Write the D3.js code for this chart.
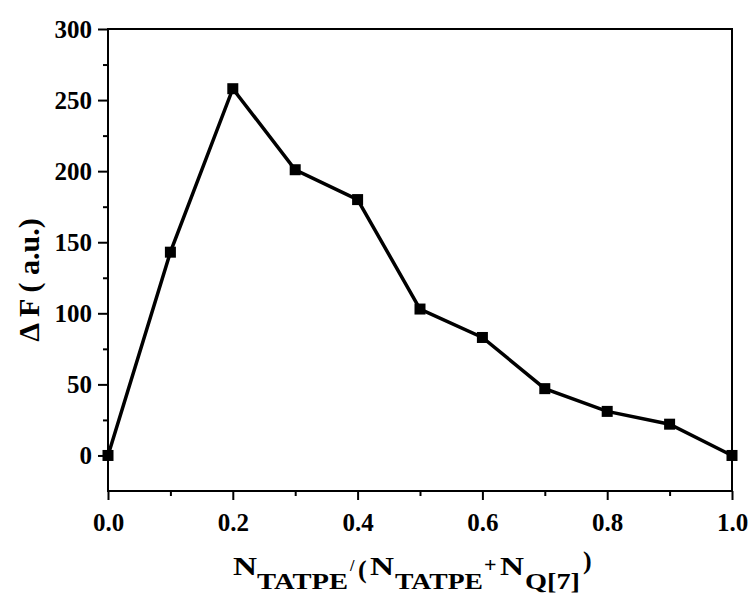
<!DOCTYPE html>
<html>
<head>
<meta charset="utf-8">
<script src="https://cdn.jsdelivr.net/npm/d3@7"></script>
<style>
  body { margin: 0; background: #fff; }
  text { font-family: "Liberation Serif", "Times New Roman", serif; font-weight: bold; fill: #000; }
</style>
</head>
<body>
<div id="chart"></div>
<script>
// values
var ratios = [0.0, 0.1, 0.2, 0.3, 0.4, 0.5, 0.6, 0.7, 0.8, 0.9, 1.0];
var deltaF = [0, 143, 258, 201, 180, 103, 83, 47, 31, 22, 0];
var xTicks = [0.0, 0.2, 0.4, 0.6, 0.8, 1.0];
var xMinor = [0.1, 0.3, 0.5, 0.7, 0.9];
var yTicks = [0, 50, 100, 150, 200, 250, 300];
var yMinor = [25, 75, 125, 175, 225, 275];

function drawChart() {
    var width = 754, height = 595;
    var margin = {top: 29, right: 22, bottom: 104, left: 108};

    var svg = d3.select("#chart")
        .append("svg")
        .attr("width", width)
        .attr("height", height);

    var x = d3.scaleLinear()
        .domain([0, 1])
        .range([margin.left, width - margin.right]);

    var y = d3.scaleLinear()
        .domain([-25, 300])
        .range([height - margin.bottom, margin.top]);

    var data = ratios.map((r, i) => ({x: r, y: deltaF[i]}));

    // frame
    svg.append("rect")
        .attr("x", x(0))
        .attr("y", y(300))
        .attr("width", x(1) - x(0))
        .attr("height", y(-25) - y(300))
        .attr("fill", "none")
        .attr("stroke", "#000")
        .attr("stroke-width", 2);

    // bottom axis
    var xAxis = svg.append("g")
        .attr("transform", "translate(0," + y(-25) + ")")
        .call(d3.axisBottom(x).tickValues(xTicks).tickFormat(d3.format(".1f")).tickSize(9).tickPadding(13));
    xAxis.select(".domain").remove();
    xAxis.selectAll("line").attr("stroke-width", 2);
    xAxis.selectAll("text").attr("font-size", 25).attr("font-family", null);

    svg.append("g")
        .attr("transform", "translate(0," + y(-25) + ")")
        .call(d3.axisBottom(x).tickValues(xMinor).tickFormat("").tickSize(5))
        .call(g => g.select(".domain").remove())
        .selectAll("line").attr("stroke-width", 2);

    // left axis
    var yAxis = svg.append("g")
        .attr("transform", "translate(" + x(0) + ",0)")
        .call(d3.axisLeft(y).tickValues(yTicks).tickSize(10).tickPadding(6));
    yAxis.select(".domain").remove();
    yAxis.selectAll("line").attr("stroke-width", 2);
    yAxis.selectAll("text").attr("font-size", 25).attr("font-family", null);

    svg.append("g")
        .attr("transform", "translate(" + x(0) + ",0)")
        .call(d3.axisLeft(y).tickValues(yMinor).tickFormat("").tickSize(5))
        .call(g => g.select(".domain").remove())
        .selectAll("line").attr("stroke-width", 2);

    // line + markers
    var line = d3.line().x(d => x(d.x)).y(d => y(d.y));
    svg.append("path")
        .datum(data)
        .attr("d", line)
        .attr("fill", "none")
        .attr("stroke", "#000")
        .attr("stroke-width", 3.5)
        .attr("stroke-linejoin", "miter");

    var s = 11;
    svg.selectAll(".pt")
        .data(data)
        .enter()
        .append("rect")
        .attr("class", "pt")
        .attr("x", d => x(d.x) - s / 2)
        .attr("y", d => y(d.y) - s / 2)
        .attr("width", s)
        .attr("height", s)
        .attr("fill", "#000");

    // y title
    svg.append("text")
        .attr("transform", "translate(39,280) rotate(-90)")
        .attr("text-anchor", "middle")
        .attr("font-size", 30)
        .text("\u0394 F ( a.u.)");

    // x title, pieces laid out like the reference (subscripts, raised signs)
    var parts = [
        {t: "N",     x: 233, y: 575, fs: 25, w: 24, bold: true},
        {t: "TATPE", x: 257, y: 589, fs: 23, w: 91, bold: true},
        {t: "/",     x: 350, y: 571, fs: 16, w: 0,  bold: false},
        {t: "(",     x: 358, y: 578, fs: 26, w: 0,  bold: false},
        {t: "N",     x: 370, y: 575, fs: 25, w: 24, bold: true},
        {t: "TATPE", x: 395, y: 589, fs: 23, w: 88, bold: true},
        {t: "+",     x: 484, y: 572, fs: 22, w: 0,  bold: false},
        {t: "N",     x: 500, y: 575, fs: 25, w: 24, bold: true},
        {t: "Q[7]",  x: 525, y: 589, fs: 23, w: 55, bold: true},
        {t: ")",     x: 583, y: 569, fs: 26, w: 0,  bold: false}
    ];
    var tg = svg.append("g");
    parts.forEach(p => {
        var el = tg.append("text")
            .attr("x", p.x)
            .attr("y", p.y)
            .attr("font-size", p.fs)
            .attr("font-weight", p.bold ? "bold" : "normal")
            .text(p.t);
        if (p.w) el.attr("textLength", p.w).attr("lengthAdjust", "spacingAndGlyphs");
    });
}
drawChart()
</script>
</body>
</html>
